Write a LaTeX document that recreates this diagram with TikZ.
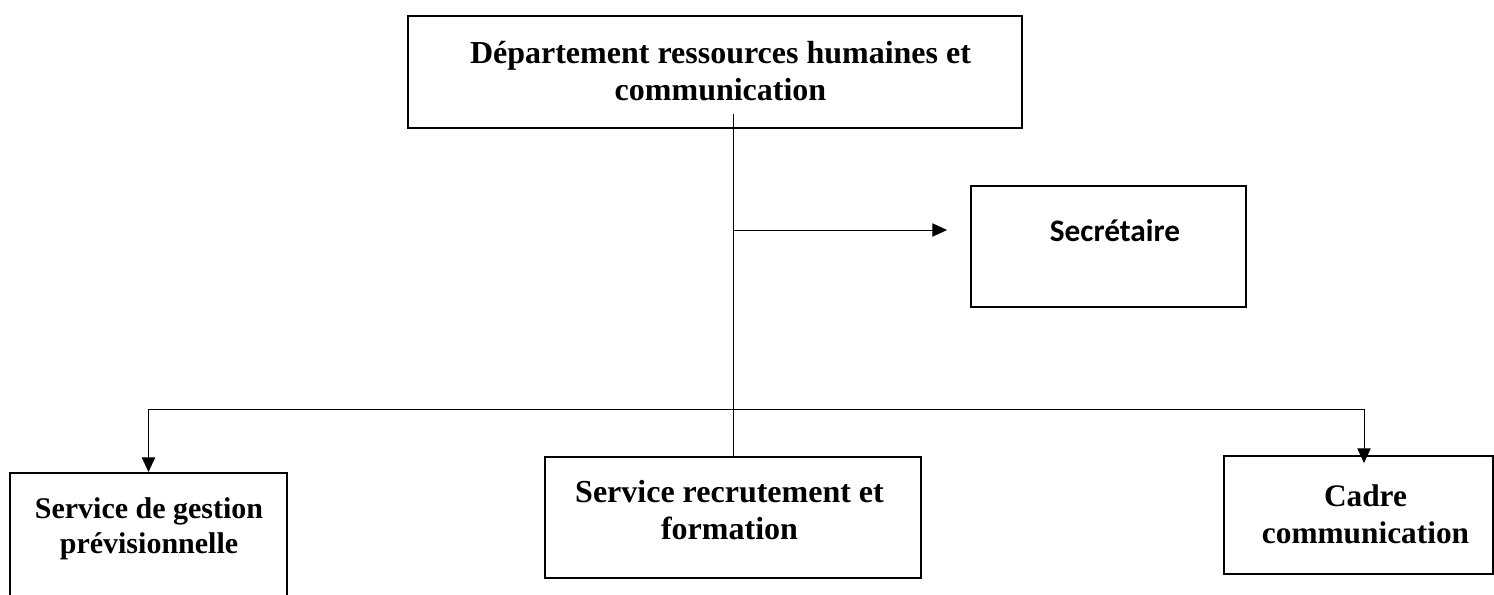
\documentclass[tikz,border=0pt]{standalone}
\usepackage{fontspec}
\setmainfont{Liberation Serif}
\newfontfamily\calibrifont{Carlito}
\usetikzlibrary{arrows.meta,fit}

\tikzset{every picture/.style={line width=0.75pt}}
\tikzset{
  orgbox/.style={draw, rectangle, line width=1.5pt, inner sep=0pt},
  orgtext/.style={inner sep=0pt, align=center, font=\bfseries\fontsize{24}{27.7}\selectfont},
  orgarrow/.style={-{Triangle[length=11pt,width=10pt]}}
}

\begin{document}
\begin{tikzpicture}[x=0.75pt,y=0.75pt,yscale=-1,xscale=1]
		\useasboundingbox (0,0) rectangle (1494,594);

		%Shape: Rectangle
		\node [orgbox, fit={(408,16) (1022,128)}] (dept) {};
		%Shape: Rectangle
		\node [orgbox, fit={(971,186) (1246,307)}] (sec) {};
		%Shape: Rectangle
		\node [orgbox, fit={(10,473) (287,600)}] (prev) {};
		%Shape: Rectangle
		\node [orgbox, fit={(545,457) (921,578)}] (recr) {};
		%Shape: Rectangle
		\node [orgbox, fit={(1224,456) (1493,574)}] (cadre) {};

		\coordinate (trunkTop) at (733,114);
		\coordinate (secJoint) at (733,230);
		\coordinate (secTip) at (947,230);
		\coordinate (busLeft) at (148.5,409);
		\coordinate (busRight) at (1364,409);
		\coordinate (cadreTip) at (1364,463);

		%Straight Lines
		\draw (trunkTop) -- (trunkTop |- recr.north);
		%Straight Lines
		\draw [orgarrow] (secJoint) -- (secTip);
		%Straight Lines
		\draw (busLeft) -- (busRight);
		%Straight Lines
		\draw [orgarrow] (busLeft) -- (busLeft |- prev.north);
		%Straight Lines
		\draw [orgarrow] (busRight) -- (cadreTip);

		% Text Node
		\node [orgtext] (deptText) at (720.5,71) {Département ressources humaines et\\communication};
		% Text Node
		\node [inner sep=0pt, anchor=base, font=\calibrifont\bfseries\fontsize{23.5}{28}\selectfont] (secText) at (1115,241) {Secrétaire};
		% Text Node
		\node [orgtext] (recrText) at (729.5,510) {Service recrutement et\\formation};
		% Text Node
		\node [orgtext, font=\bfseries\fontsize{22.5}{26.2}\selectfont] (prevText) at (149,528.5) {Service de gestion\\prévisionnelle};
		% Text Node
		\node [orgtext, font=\bfseries\fontsize{23.5}{27.7}\selectfont] (cadreText) at (1365.5,514.5) {Cadre\\communication};
\end{tikzpicture}
\end{document}
